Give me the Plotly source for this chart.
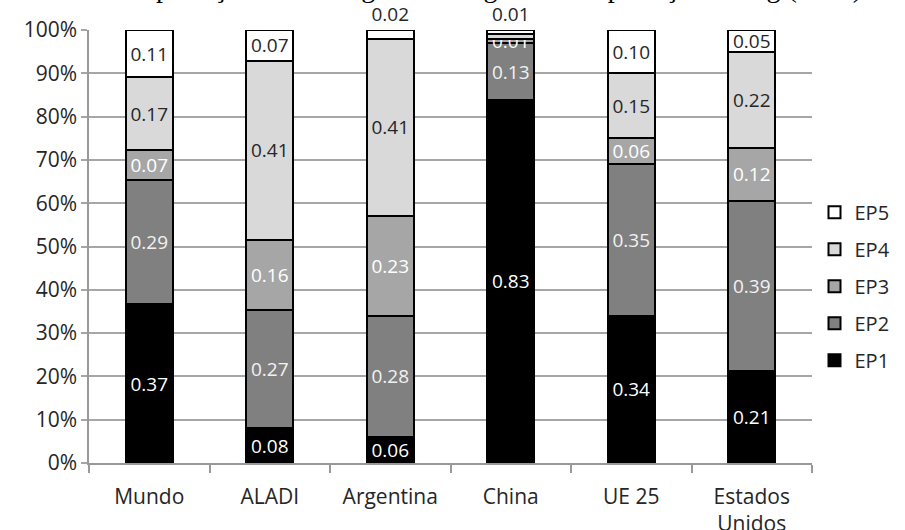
import plotly.graph_objects as go

categories = ["Mundo", "ALADI", "Argentina", "China", "UE 25", "Estados<br>Unidos"]
series_names = ["EP1", "EP2", "EP3", "EP4", "EP5"]
ep1 = [0.37, 0.08, 0.06, 0.83, 0.34, 0.21]
ep2 = [0.29, 0.27, 0.28, 0.13, 0.35, 0.39]
ep3 = [0.07, 0.16, 0.23, 0.01, 0.06, 0.12]
ep4 = [0.17, 0.41, 0.41, 0.01, 0.15, 0.22]
ep5 = [0.11, 0.07, 0.02, 0.01, 0.10, 0.05]
y_ticks = [0, 10, 20, 30, 40, 50, 60, 70, 80, 90, 100]
title_text = "Exportações totais segundo categoria de exportação em kg (2006)"

series = [ep1, ep2, ep3, ep4, ep5]
fills = ["#000000", "#808080", "#a6a6a6", "#d9d9d9", "#ffffff"]
text_colors = ["#ffffff", "#f2f2f2", "#ffffff", "#262626", "#262626"]

fig = go.Figure()
for i, (name, vals) in enumerate(zip(series_names, series)):
    texts = [f"{v:.2f}" for v in vals]
    positions = ["inside"] * len(vals)
    if name == "EP4":
        texts[3] = ""
    if name == "EP5":
        positions[2] = "outside"
        positions[3] = "outside"
    fig.add_trace(go.Bar(
        x=categories, y=vals, name=name, legendgroup=name,
        legendrank=len(series_names) - i,
        marker=dict(color=fills[i], line=dict(color="#000000", width=2)),
        text=texts, textposition=positions, textangle=0,
        insidetextanchor="middle", constraintext="none", cliponaxis=False,
        insidetextfont=dict(family="Open Sans", size=19, color=text_colors[i]),
        outsidetextfont=dict(family="Open Sans", size=19, color="#262626"),
        hoverinfo="skip",
    ))

fig.update_layout(
    barmode="stack", barnorm="percent", bargap=0.61,
    width=905, height=530,
    margin=dict(l=89, r=93, t=30, b=67, autoexpand=False),
    paper_bgcolor="#ffffff", plot_bgcolor="#ffffff",
    font=dict(family="Open Sans", size=21, color="#262626"),
    showlegend=True,
    legend=dict(
        traceorder="grouped", tracegroupgap=8,
        xref="container", yref="container", x=0.9, y=0.46,
        xanchor="left", yanchor="middle",
        font=dict(family="Open Sans", size=20, color="#262626"),
        bgcolor="rgba(0,0,0,0)",
    ),
    annotations=[dict(
        text=title_text, xref="paper", yref="paper", x=0.56, y=1.0,
        xanchor="center", yanchor="bottom", yshift=25, showarrow=False,
        font=dict(family="Liberation Serif", size=28, color="#000000"),
    )],
)
fig.update_xaxes(
    showline=True, linecolor="#999999", linewidth=1.5,
    ticks="outside", tickson="boundaries", ticklen=8, tickcolor="#999999", tickwidth=1.5,
    showgrid=False, automargin=False, ticklabelstandoff=14,
    tickfont=dict(family="Open Sans", size=21, color="#262626"),
)
fig.update_yaxes(
    range=[0, 100], tickvals=y_ticks, ticktext=[f"{t}%" for t in y_ticks],
    showline=True, linecolor="#999999", linewidth=1.5,
    showgrid=True, gridcolor="#a6a6a6", gridwidth=1.5,
    ticks="outside", ticklen=6, tickcolor="#a6a6a6", tickwidth=1.5,
    zeroline=False, automargin=False,
    tickfont=dict(family="Open Sans", size=21, color="#262626"),
)

fig.write_html("out.html", config={"displayModeBar": False},
               post_script="document.body.style.margin='0';")
